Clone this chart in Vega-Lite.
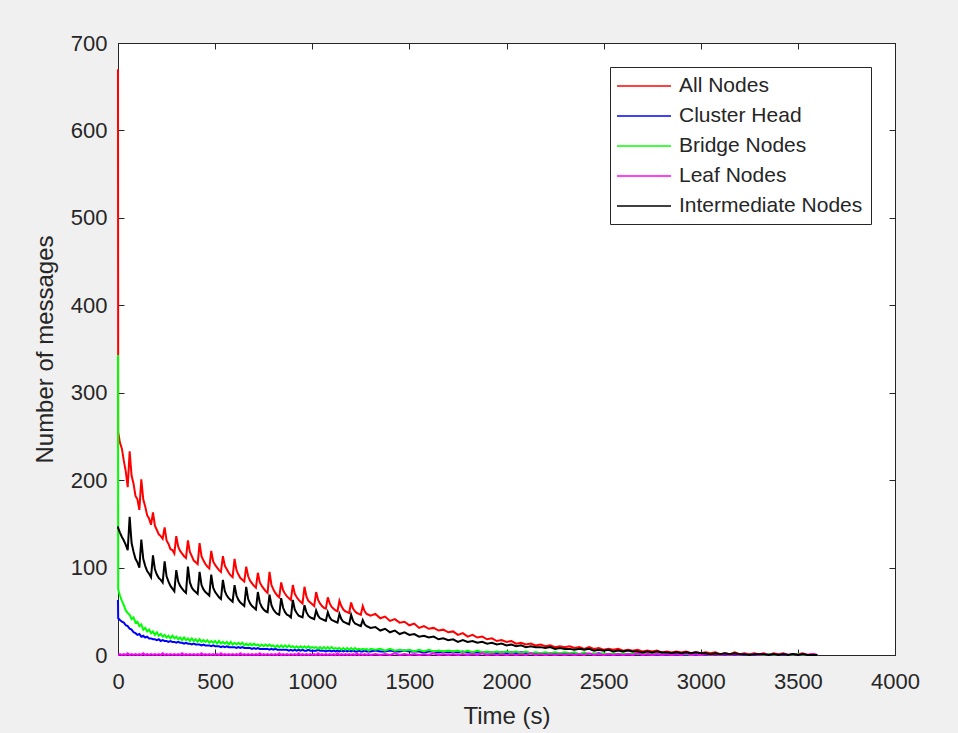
{
"$schema": "https://vega.github.io/schema/vega-lite/v6.json",
"width": 777, "height": 612,
"autosize": {"type": "none"},
"padding": {"left": 118, "top": 43, "right": 63, "bottom": 78},
"background": "#f0f0f0",
"config": {
  "view": {"fill": "white", "stroke": "#262626", "strokeWidth": 1},
  "font": "Liberation Sans",
  "axis": {"domainColor": "#262626", "tickColor": "#262626", "labelColor": "#262626", "titleColor": "#262626", "labelFont": "Liberation Sans", "titleFont": "Liberation Sans", "grid": false, "tickSize": -6, "labelFontSize": 22, "titleFontSize": 24, "titleFontWeight": "normal", "labelFlush": false, "format": "d"}
},
"data": {"values": [
{"t":0,"a":670,"c":63,"b":343,"l":0,"i":147},
{"t":1,"a":255,"c":42,"b":75,"l":0,"i":145},
{"t":10,"a":243,"c":40,"b":68,"l":1,"i":140},
{"t":20,"a":236,"c":38,"b":62,"l":0,"i":135},
{"t":30,"a":222,"c":37,"b":57,"l":1,"i":131},
{"t":40,"a":210,"c":34,"b":51,"l":0,"i":126},
{"t":50,"a":192,"c":33,"b":48,"l":2,"i":120},
{"t":60,"a":233,"c":30,"b":46,"l":0,"i":158},
{"t":70,"a":205,"c":29,"b":41,"l":1,"i":128},
{"t":80,"a":196,"c":26,"b":43,"l":0,"i":118},
{"t":90,"a":182,"c":25,"b":37,"l":1,"i":110},
{"t":100,"a":178,"c":23,"b":38,"l":0,"i":106},
{"t":110,"a":166,"c":24,"b":33,"l":1,"i":100},
{"t":120,"a":201,"c":21,"b":35,"l":0,"i":132},
{"t":130,"a":178,"c":22,"b":29,"l":2,"i":110},
{"t":140,"a":170,"c":20,"b":31,"l":0,"i":102},
{"t":150,"a":160,"c":21,"b":27,"l":1,"i":96},
{"t":160,"a":156,"c":19,"b":29,"l":0,"i":93},
{"t":170,"a":149,"c":19,"b":25,"l":1,"i":89},
{"t":180,"a":163,"c":18,"b":27,"l":0,"i":114},
{"t":190,"a":148,"c":18,"b":23,"l":1,"i":98},
{"t":200,"a":143,"c":17,"b":26,"l":0,"i":92},
{"t":210,"a":138,"c":18,"b":22,"l":1,"i":88},
{"t":220,"a":136,"c":16,"b":24,"l":0,"i":86},
{"t":230,"a":133,"c":17,"b":21,"l":2,"i":83},
{"t":240,"a":146,"c":16,"b":23,"l":0,"i":107},
{"t":250,"a":131,"c":16,"b":20,"l":1,"i":90},
{"t":260,"a":127,"c":15,"b":22,"l":0,"i":84},
{"t":270,"a":121,"c":16,"b":19,"l":1,"i":79},
{"t":280,"a":120,"c":15,"b":22,"l":0,"i":76},
{"t":290,"a":116,"c":15,"b":19,"l":1,"i":73},
{"t":300,"a":136,"c":14,"b":21,"l":0,"i":97},
{"t":310,"a":124,"c":15,"b":18,"l":1,"i":84},
{"t":320,"a":119,"c":14,"b":20,"l":0,"i":79},
{"t":330,"a":116,"c":14,"b":17,"l":2,"i":76},
{"t":340,"a":113,"c":13,"b":20,"l":0,"i":73},
{"t":350,"a":111,"c":14,"b":17,"l":1,"i":71},
{"t":360,"a":131,"c":13,"b":19,"l":0,"i":101},
{"t":370,"a":118,"c":13,"b":16,"l":1,"i":83},
{"t":380,"a":113,"c":12,"b":19,"l":0,"i":77},
{"t":390,"a":108,"c":13,"b":16,"l":1,"i":74},
{"t":400,"a":106,"c":12,"b":18,"l":0,"i":72},
{"t":410,"a":104,"c":12,"b":15,"l":1,"i":70},
{"t":420,"a":128,"c":12,"b":18,"l":0,"i":95},
{"t":430,"a":113,"c":11,"b":15,"l":2,"i":80},
{"t":440,"a":108,"c":12,"b":17,"l":0,"i":75},
{"t":450,"a":104,"c":11,"b":15,"l":1,"i":72},
{"t":460,"a":101,"c":11,"b":17,"l":0,"i":70},
{"t":470,"a":99,"c":11,"b":14,"l":1,"i":68},
{"t":480,"a":119,"c":10,"b":16,"l":0,"i":92},
{"t":490,"a":107,"c":11,"b":14,"l":1,"i":77},
{"t":500,"a":103,"c":10,"b":16,"l":0,"i":72},
{"t":510,"a":100,"c":10,"b":13,"l":1,"i":69},
{"t":520,"a":97,"c":10,"b":16,"l":0,"i":66},
{"t":530,"a":95,"c":9,"b":13,"l":2,"i":64},
{"t":540,"a":113,"c":10,"b":15,"l":0,"i":86},
{"t":550,"a":102,"c":9,"b":13,"l":1,"i":73},
{"t":560,"a":98,"c":10,"b":15,"l":0,"i":68},
{"t":570,"a":94,"c":9,"b":12,"l":1,"i":65},
{"t":580,"a":91,"c":9,"b":15,"l":0,"i":63},
{"t":590,"a":89,"c":9,"b":12,"l":1,"i":61},
{"t":600,"a":110,"c":9,"b":14,"l":0,"i":80},
{"t":610,"a":97,"c":8,"b":12,"l":1,"i":68},
{"t":620,"a":92,"c":9,"b":14,"l":0,"i":63},
{"t":630,"a":88,"c":8,"b":12,"l":2,"i":60},
{"t":640,"a":86,"c":9,"b":14,"l":0,"i":58},
{"t":650,"a":84,"c":8,"b":11,"l":1,"i":56},
{"t":660,"a":101,"c":8,"b":13,"l":0,"i":78},
{"t":670,"a":90,"c":8,"b":11,"l":1,"i":64},
{"t":680,"a":85,"c":8,"b":13,"l":0,"i":59},
{"t":690,"a":82,"c":7,"b":11,"l":1,"i":56},
{"t":700,"a":79,"c":8,"b":13,"l":0,"i":54},
{"t":710,"a":77,"c":7,"b":11,"l":1,"i":52},
{"t":720,"a":94,"c":8,"b":12,"l":0,"i":72},
{"t":730,"a":83,"c":7,"b":10,"l":2,"i":60},
{"t":740,"a":79,"c":7,"b":12,"l":0,"i":55},
{"t":750,"a":76,"c":7,"b":10,"l":1,"i":52},
{"t":760,"a":73,"c":7,"b":12,"l":0,"i":50},
{"t":770,"a":71,"c":7,"b":10,"l":1,"i":49},
{"t":780,"a":95,"c":6,"b":12,"l":0,"i":69},
{"t":790,"a":80,"c":7,"b":10,"l":1,"i":57},
{"t":800,"a":75,"c":6,"b":11,"l":0,"i":52},
{"t":810,"a":71,"c":7,"b":9,"l":1,"i":49},
{"t":820,"a":68,"c":6,"b":11,"l":0,"i":47},
{"t":830,"a":66,"c":6,"b":9,"l":2,"i":46},
{"t":840,"a":83,"c":6,"b":11,"l":0,"i":65},
{"t":850,"a":74,"c":6,"b":9,"l":1,"i":54},
{"t":860,"a":70,"c":6,"b":11,"l":0,"i":49},
{"t":870,"a":67,"c":6,"b":9,"l":1,"i":46},
{"t":880,"a":65,"c":5,"b":11,"l":0,"i":45},
{"t":890,"a":63,"c":6,"b":9,"l":1,"i":43},
{"t":900,"a":80,"c":5,"b":10,"l":0,"i":63},
{"t":910,"a":70,"c":6,"b":8,"l":1,"i":52},
{"t":920,"a":66,"c":5,"b":10,"l":0,"i":48},
{"t":930,"a":63,"c":6,"b":8,"l":2,"i":45},
{"t":940,"a":61,"c":5,"b":10,"l":0,"i":44},
{"t":950,"a":59,"c":6,"b":8,"l":1,"i":43},
{"t":960,"a":78,"c":5,"b":10,"l":0,"i":57},
{"t":970,"a":67,"c":5,"b":8,"l":1,"i":49},
{"t":980,"a":62,"c":6,"b":10,"l":0,"i":45},
{"t":990,"a":60,"c":5,"b":8,"l":1,"i":43},
{"t":1000,"a":58,"c":5,"b":9,"l":0,"i":42},
{"t":1010,"a":56,"c":5,"b":8,"l":1,"i":41},
{"t":1020,"a":72,"c":5,"b":9,"l":0,"i":51},
{"t":1030,"a":63,"c":6,"b":7,"l":2,"i":45},
{"t":1040,"a":59,"c":5,"b":9,"l":0,"i":42},
{"t":1050,"a":56,"c":5,"b":7,"l":1,"i":41},
{"t":1060,"a":54,"c":5,"b":9,"l":0,"i":40},
{"t":1070,"a":53,"c":4,"b":7,"l":1,"i":39},
{"t":1080,"a":66,"c":5,"b":9,"l":0,"i":49},
{"t":1090,"a":59,"c":5,"b":7,"l":1,"i":43},
{"t":1100,"a":55,"c":4,"b":9,"l":0,"i":40},
{"t":1110,"a":53,"c":5,"b":7,"l":1,"i":39},
{"t":1120,"a":51,"c":4,"b":8,"l":0,"i":38},
{"t":1130,"a":50,"c":5,"b":7,"l":2,"i":37},
{"t":1140,"a":62,"c":4,"b":8,"l":0,"i":47},
{"t":1150,"a":56,"c":5,"b":6,"l":1,"i":41},
{"t":1160,"a":52,"c":4,"b":8,"l":0,"i":38},
{"t":1170,"a":50,"c":5,"b":6,"l":1,"i":37},
{"t":1180,"a":49,"c":4,"b":8,"l":0,"i":36},
{"t":1190,"a":48,"c":5,"b":6,"l":1,"i":35},
{"t":1200,"a":60,"c":4,"b":8,"l":0,"i":46},
{"t":1210,"a":53,"c":5,"b":6,"l":1,"i":39},
{"t":1220,"a":50,"c":4,"b":8,"l":0,"i":36},
{"t":1230,"a":48,"c":4,"b":6,"l":2,"i":35},
{"t":1240,"a":47,"c":5,"b":7,"l":0,"i":34},
{"t":1250,"a":46,"c":4,"b":6,"l":1,"i":33},
{"t":1260,"a":56,"c":4,"b":7,"l":0,"i":40},
{"t":1270,"a":50,"c":5,"b":6,"l":1,"i":35},
{"t":1280,"a":47,"c":4,"b":7,"l":0,"i":33},
{"t":1290,"a":46,"c":4,"b":5,"l":1,"i":32},
{"t":1300,"a":45,"c":4,"b":7,"l":0,"i":31},
{"t":1325,"a":47,"c":5,"b":6,"l":1,"i":32},
{"t":1350,"a":42,"c":4,"b":7,"l":0,"i":28},
{"t":1375,"a":44,"c":4,"b":5,"l":1,"i":30},
{"t":1400,"a":39,"c":5,"b":7,"l":0,"i":26},
{"t":1425,"a":41,"c":4,"b":5,"l":2,"i":28},
{"t":1450,"a":37,"c":4,"b":6,"l":0,"i":24},
{"t":1475,"a":38,"c":5,"b":5,"l":1,"i":26},
{"t":1500,"a":34,"c":4,"b":6,"l":0,"i":23},
{"t":1525,"a":36,"c":4,"b":4,"l":1,"i":24},
{"t":1550,"a":31,"c":4,"b":6,"l":0,"i":21},
{"t":1575,"a":33,"c":3,"b":4,"l":1,"i":22},
{"t":1600,"a":30,"c":4,"b":6,"l":0,"i":20},
{"t":1625,"a":31,"c":4,"b":4,"l":2,"i":21},
{"t":1650,"a":28,"c":3,"b":5,"l":0,"i":18},
{"t":1675,"a":29,"c":4,"b":4,"l":1,"i":19},
{"t":1700,"a":26,"c":3,"b":5,"l":0,"i":17},
{"t":1725,"a":27,"c":4,"b":4,"l":1,"i":18},
{"t":1750,"a":23,"c":3,"b":5,"l":0,"i":15},
{"t":1775,"a":25,"c":4,"b":3,"l":1,"i":17},
{"t":1800,"a":21,"c":3,"b":5,"l":0,"i":15},
{"t":1825,"a":23,"c":3,"b":3,"l":1,"i":16},
{"t":1850,"a":20,"c":3,"b":5,"l":0,"i":14},
{"t":1875,"a":21,"c":3,"b":3,"l":2,"i":15},
{"t":1900,"a":18,"c":3,"b":4,"l":0,"i":13},
{"t":1925,"a":19,"c":3,"b":3,"l":1,"i":14},
{"t":1950,"a":16,"c":2,"b":4,"l":0,"i":12},
{"t":1975,"a":17,"c":3,"b":3,"l":1,"i":13},
{"t":2000,"a":15,"c":2,"b":4,"l":0,"i":11},
{"t":2025,"a":16,"c":3,"b":3,"l":1,"i":12},
{"t":2050,"a":13,"c":2,"b":4,"l":0,"i":10},
{"t":2075,"a":14,"c":3,"b":2,"l":1,"i":11},
{"t":2100,"a":12,"c":2,"b":4,"l":0,"i":9},
{"t":2125,"a":13,"c":2,"b":2,"l":2,"i":10},
{"t":2150,"a":11,"c":2,"b":3,"l":0,"i":9},
{"t":2175,"a":12,"c":2,"b":2,"l":1,"i":9},
{"t":2200,"a":10,"c":2,"b":3,"l":0,"i":8},
{"t":2225,"a":11,"c":2,"b":2,"l":1,"i":9},
{"t":2250,"a":9,"c":2,"b":3,"l":0,"i":7},
{"t":2275,"a":10,"c":1,"b":2,"l":1,"i":8},
{"t":2300,"a":9,"c":2,"b":3,"l":0,"i":7},
{"t":2325,"a":10,"c":1,"b":2,"l":1,"i":7},
{"t":2350,"a":8,"c":2,"b":3,"l":0,"i":6},
{"t":2375,"a":9,"c":1,"b":1,"l":1,"i":7},
{"t":2400,"a":7,"c":2,"b":3,"l":0,"i":6},
{"t":2425,"a":9,"c":1,"b":1,"l":2,"i":7},
{"t":2450,"a":7,"c":1,"b":2,"l":0,"i":5},
{"t":2475,"a":8,"c":2,"b":1,"l":1,"i":6},
{"t":2500,"a":6,"c":1,"b":2,"l":0,"i":5},
{"t":2525,"a":7,"c":1,"b":1,"l":1,"i":6},
{"t":2550,"a":6,"c":1,"b":2,"l":0,"i":4},
{"t":2575,"a":7,"c":1,"b":1,"l":1,"i":5},
{"t":2600,"a":5,"c":1,"b":2,"l":0,"i":4},
{"t":2625,"a":6,"c":1,"b":1,"l":1,"i":5},
{"t":2650,"a":5,"c":1,"b":2,"l":0,"i":4},
{"t":2675,"a":6,"c":1,"b":1,"l":2,"i":4},
{"t":2700,"a":4,"c":1,"b":2,"l":0,"i":3},
{"t":2725,"a":5,"c":1,"b":1,"l":1,"i":4},
{"t":2750,"a":4,"c":1,"b":1,"l":0,"i":3},
{"t":2775,"a":5,"c":0,"b":1,"l":1,"i":4},
{"t":2800,"a":3,"c":1,"b":1,"l":0,"i":3},
{"t":2825,"a":4,"c":0,"b":1,"l":1,"i":3},
{"t":2850,"a":3,"c":1,"b":1,"l":0,"i":2},
{"t":2875,"a":4,"c":0,"b":1,"l":1,"i":3},
{"t":2900,"a":3,"c":1,"b":1,"l":0,"i":2},
{"t":2925,"a":4,"c":0,"b":1,"l":2,"i":3},
{"t":2950,"a":2,"c":1,"b":0,"l":0,"i":2},
{"t":2975,"a":3,"c":0,"b":1,"l":1,"i":3},
{"t":3000,"a":2,"c":1,"b":0,"l":0,"i":2},
{"t":3025,"a":3,"c":0,"b":1,"l":1,"i":2},
{"t":3050,"a":2,"c":0,"b":0,"l":0,"i":1},
{"t":3075,"a":3,"c":1,"b":1,"l":1,"i":2},
{"t":3100,"a":1,"c":0,"b":0,"l":0,"i":1},
{"t":3125,"a":2,"c":0,"b":1,"l":1,"i":2},
{"t":3150,"a":1,"c":0,"b":0,"l":0,"i":1},
{"t":3175,"a":3,"c":0,"b":1,"l":1,"i":2},
{"t":3200,"a":1,"c":0,"b":0,"l":0,"i":1},
{"t":3225,"a":2,"c":0,"b":1,"l":1,"i":1},
{"t":3250,"a":1,"c":0,"b":0,"l":0,"i":0},
{"t":3275,"a":2,"c":0,"b":1,"l":1,"i":1},
{"t":3300,"a":1,"c":0,"b":0,"l":0,"i":1},
{"t":3325,"a":2,"c":0,"b":0,"l":1,"i":1},
{"t":3350,"a":0,"c":0,"b":1,"l":0,"i":0},
{"t":3375,"a":2,"c":0,"b":0,"l":1,"i":1},
{"t":3400,"a":1,"c":0,"b":0,"l":0,"i":0},
{"t":3425,"a":2,"c":0,"b":1,"l":1,"i":1},
{"t":3450,"a":0,"c":0,"b":0,"l":0,"i":0},
{"t":3475,"a":1,"c":0,"b":0,"l":1,"i":1},
{"t":3500,"a":1,"c":0,"b":1,"l":0,"i":0},
{"t":3525,"a":2,"c":0,"b":0,"l":1,"i":1},
{"t":3550,"a":0,"c":0,"b":0,"l":0,"i":0},
{"t":3575,"a":1,"c":0,"b":0,"l":1,"i":0},
{"t":3600,"a":0,"c":0,"b":0,"l":0,"i":0}
]},
"transform": [{"fold": ["a", "c", "b", "l", "i"], "as": ["s", "v"]}],
"layer": [
  {
    "mark": {"type": "line", "strokeWidth": 2},
    "encoding": {
      "x": {"field": "t", "type": "quantitative", "scale": {"domain": [0, 4000], "nice": false},
        "axis": {"orient": "bottom", "values": [0, 500, 1000, 1500, 2000, 2500, 3000, 3500, 4000], "title": "Time (s)", "labelPadding": 22, "titlePadding": 12}},
      "y": {"field": "v", "type": "quantitative", "scale": {"domain": [0, 700], "nice": false},
        "axis": {"orient": "left", "values": [0, 100, 200, 300, 400, 500, 600, 700], "title": "Number of messages", "labelPadding": 17, "titlePadding": 13}},
      "color": {"field": "s", "type": "nominal",
        "scale": {"domain": ["a", "c", "b", "l", "i"], "range": ["#ff0000", "#0000ff", "#00ff00", "#ff00ff", "#000000"]},
        "legend": {"orient": "none", "legendX": 492, "legendY": 24, "title": null,
          "labelExpr": "datum.label == 'a' ? 'All Nodes' : datum.label == 'c' ? 'Cluster Head' : datum.label == 'b' ? 'Bridge Nodes' : datum.label == 'l' ? 'Leaf Nodes' : 'Intermediate Nodes'",
          "labelFontSize": 21, "labelColor": "#262626", "labelFont": "Liberation Sans", "labelLimit": 400,
          "symbolType": "M-2.7,0H2.7", "symbolSize": 400, "symbolStrokeWidth": 1.6,
          "symbolOffset": 15, "labelOffset": 24, "rowPadding": 9, "padding": 8,
          "strokeColor": "#262626", "fillColor": "white", "cornerRadius": 0}}
    }
  },
  {
    "mark": {"type": "line", "opacity": 0},
    "encoding": {
      "x": {"field": "t", "type": "quantitative", "axis": {"orient": "top", "values": [0, 500, 1000, 1500, 2000, 2500, 3000, 3500, 4000], "labels": false, "title": null}},
      "y": {"field": "v", "type": "quantitative", "axis": {"orient": "right", "values": [0, 100, 200, 300, 400, 500, 600, 700], "labels": false, "title": null}},
      "detail": {"field": "s"}
    }
  }
],
"resolve": {"axis": {"x": "independent", "y": "independent"}}
}
